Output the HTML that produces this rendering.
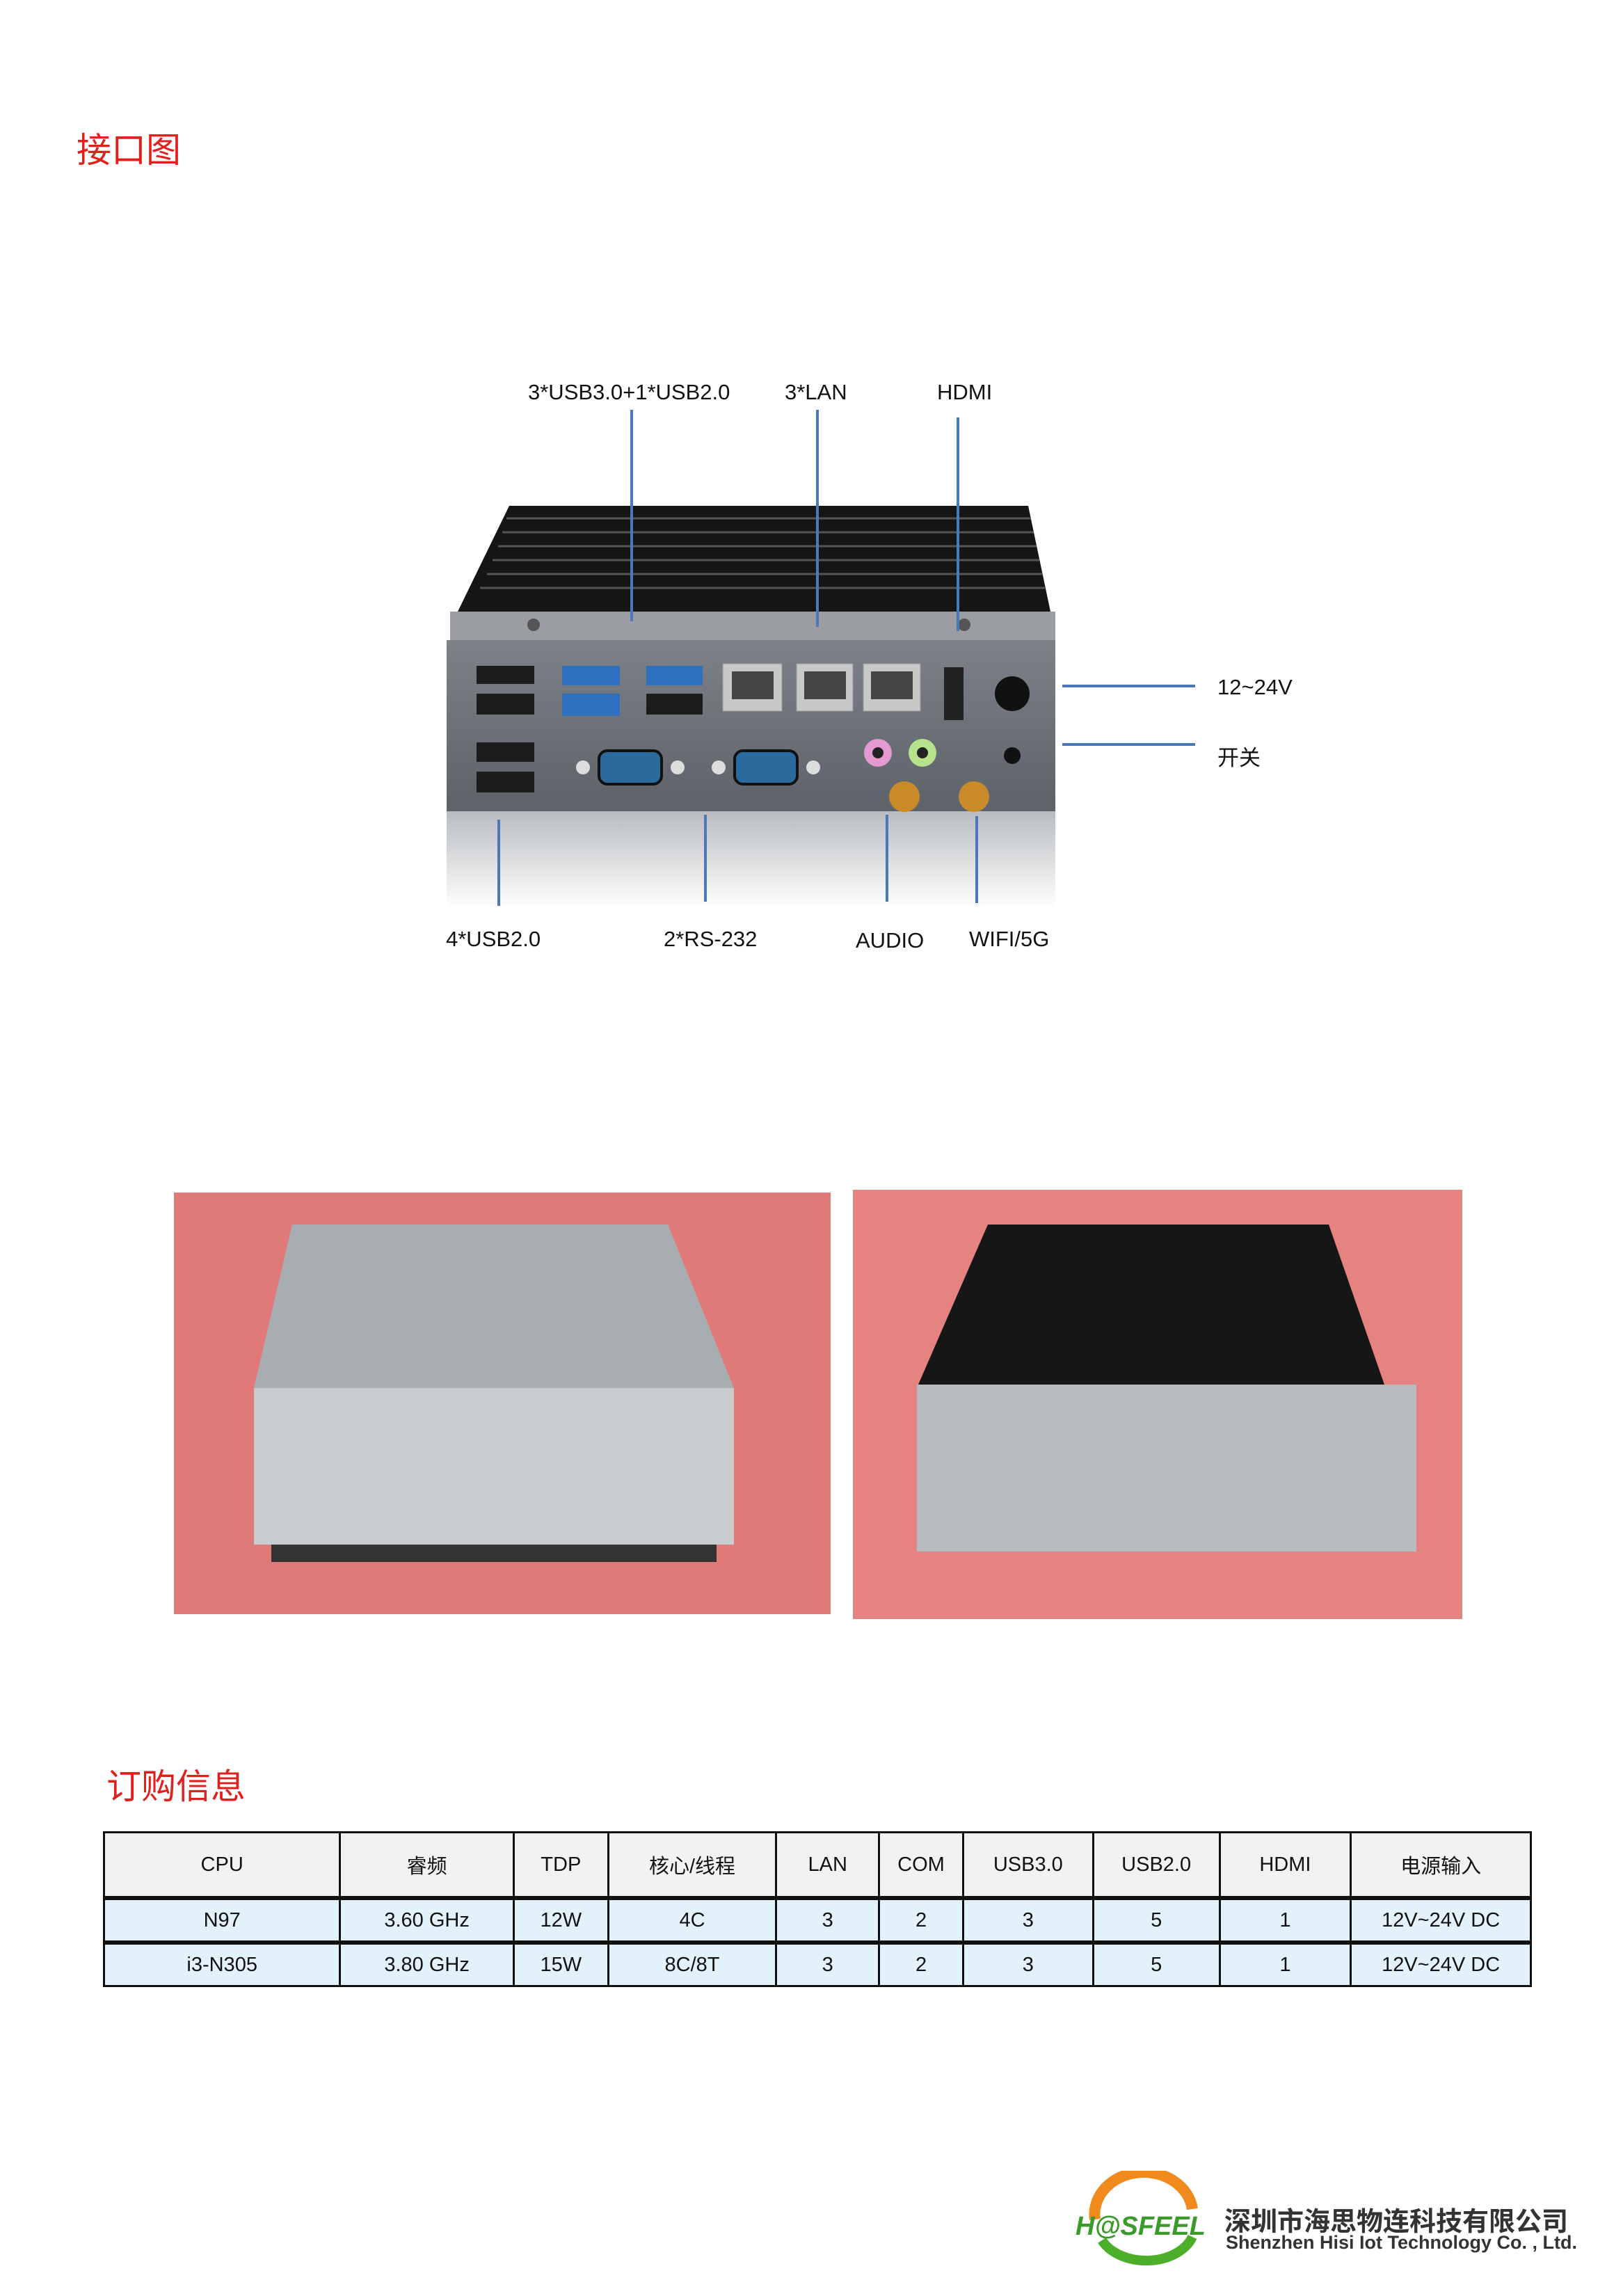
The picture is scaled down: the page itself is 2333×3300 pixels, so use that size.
<!DOCTYPE html>
<html><head><meta charset="utf-8"><style>
body{margin:0;background:#fff;}
#p{position:relative;width:2333px;height:3300px;overflow:hidden;font-family:"Liberation Sans","Noto Sans CJK SC",sans-serif;color:#111;}
.t{position:absolute;white-space:nowrap;}
table{position:absolute;left:148px;top:2632px;width:2054px;border-collapse:collapse;font-size:29px;}
td{border:3px solid #111;text-align:center;padding:0;}
tr.h td{background:#f2f2f2;height:90px;}
tr.d td{background:#e3f1fb;height:58px;border-top:6px solid #111;}
</style></head><body><div id="p">
<div class="t" style="left:110px;top:176px;font-size:50px;color:#e0201c;">接口图</div>
<div class="t" style="left:153px;top:2528px;font-size:50px;color:#e0201c;">订购信息</div>

<svg style="position:absolute;left:0;top:0" width="2333" height="2400">
<defs>
<linearGradient id="pan" x1="0" y1="0" x2="0" y2="1"><stop offset="0" stop-color="#7d8288"/><stop offset="1" stop-color="#5d6268"/></linearGradient>
<linearGradient id="ref" x1="0" y1="0" x2="0" y2="1"><stop offset="0" stop-color="#b8bcc0"/><stop offset="1" stop-color="#fff"/></linearGradient>
</defs>
<polygon points="732,727 1478,727 1510,879 658,879" fill="#151515"/>
<g stroke="#555" stroke-width="3">
<line x1="728" y1="745" x2="1482" y2="745"/><line x1="722" y1="765" x2="1486" y2="765"/><line x1="716" y1="785" x2="1490" y2="785"/><line x1="708" y1="805" x2="1494" y2="805"/><line x1="700" y1="825" x2="1498" y2="825"/><line x1="690" y1="845" x2="1502" y2="845"/></g>
<rect x="647" y="879" width="870" height="41" fill="#9a9ea2"/>
<circle cx="767" cy="898" r="9" fill="#555"/><circle cx="1386" cy="898" r="9" fill="#555"/>
<rect x="642" y="920" width="875" height="246" fill="url(#pan)"/>
<rect x="642" y="1166" width="875" height="140" fill="url(#ref)"/>
<g fill="#1c1c1c">
<rect x="685" y="957" width="83" height="26"/><rect x="685" y="997" width="83" height="30"/>
<rect x="685" y="1067" width="83" height="28"/><rect x="685" y="1109" width="83" height="30"/>
<rect x="929" y="997" width="81" height="30"/></g>
<g fill="#2f6fc0"><rect x="808" y="957" width="83" height="28"/><rect x="808" y="997" width="83" height="32"/><rect x="929" y="957" width="81" height="28"/></g>
<g fill="#c8c8c8" stroke="#999"><rect x="1039" y="954" width="85" height="68"/><rect x="1145" y="954" width="81" height="68"/><rect x="1241" y="954" width="82" height="68"/></g>
<g fill="#444"><rect x="1052" y="965" width="60" height="40"/><rect x="1156" y="965" width="60" height="40"/><rect x="1252" y="965" width="60" height="40"/></g>
<rect x="1357" y="959" width="28" height="76" fill="#222"/>
<circle cx="1455" cy="997" r="25" fill="#111"/>
<g fill="#2a6a9c" stroke="#111" stroke-width="4"><rect x="861" y="1079" width="90" height="48" rx="12"/><rect x="1056" y="1079" width="90" height="48" rx="12"/></g>
<circle cx="838" cy="1103" r="10" fill="#ddd"/><circle cx="974" cy="1103" r="10" fill="#ddd"/><circle cx="1033" cy="1103" r="10" fill="#ddd"/><circle cx="1169" cy="1103" r="10" fill="#ddd"/>
<circle cx="1262" cy="1082" r="20" fill="#e29ad0"/><circle cx="1262" cy="1082" r="8" fill="#222"/>
<circle cx="1326" cy="1082" r="20" fill="#b7e28c"/><circle cx="1326" cy="1082" r="8" fill="#222"/>
<circle cx="1300" cy="1145" r="22" fill="#c98a2a"/><circle cx="1400" cy="1145" r="22" fill="#c98a2a"/>
<circle cx="1455" cy="1086" r="12" fill="#111"/>
<g stroke="#4a78b8" stroke-width="4">
<line x1="908" y1="589" x2="908" y2="893"/><line x1="1175" y1="589" x2="1175" y2="901"/><line x1="1377" y1="600" x2="1377" y2="907"/>
<line x1="1527" y1="986" x2="1718" y2="986"/><line x1="1527" y1="1070" x2="1718" y2="1070"/>
<line x1="717" y1="1178" x2="717" y2="1302"/><line x1="1014" y1="1171" x2="1014" y2="1296"/><line x1="1275" y1="1171" x2="1275" y2="1296"/><line x1="1404" y1="1173" x2="1404" y2="1298"/></g>
<rect x="250" y="1714" width="944" height="606" fill="#e07a78"/>
<polygon points="420,1760 960,1760 1055,1995 365,1995" fill="#a8adb2"/>
<rect x="365" y="1995" width="690" height="225" fill="#c9ccce"/>
<rect x="390" y="2220" width="640" height="25" fill="#333"/>
<rect x="1226" y="1710" width="876" height="617" fill="#e4837f"/>
<polygon points="1420,1760 1910,1760 1990,1990 1320,1990" fill="#161616"/>
<rect x="1318" y="1990" width="718" height="240" fill="#b9bcbf"/>
</svg>

<div class="t" style="left:759px;top:546px;font-size:31px;">3*USB3.0+1*USB2.0</div>
<div class="t" style="left:1128px;top:546px;font-size:31px;">3*LAN</div>
<div class="t" style="left:1347px;top:546px;font-size:31px;">HDMI</div>
<div class="t" style="left:1750px;top:970px;font-size:31px;">12~24V</div>
<div class="t" style="left:1750px;top:1064px;font-size:31px;">开关</div>
<div class="t" style="left:641px;top:1332px;font-size:31px;">4*USB2.0</div>
<div class="t" style="left:954px;top:1332px;font-size:31px;">2*RS-232</div>
<div class="t" style="left:1230px;top:1334px;font-size:31px;">AUDIO</div>
<div class="t" style="left:1393px;top:1332px;font-size:31px;">WIFI/5G</div>

<table>
<colgroup><col style="width:340px"><col style="width:250px"><col style="width:136px"><col style="width:242px"><col style="width:148px"><col style="width:121px"><col style="width:187px"><col style="width:182px"><col style="width:189px"><col style="width:259px"></colgroup>
<tr class="h"><td>CPU</td><td>睿频</td><td>TDP</td><td>核心/线程</td><td>LAN</td><td>COM</td><td>USB3.0</td><td>USB2.0</td><td>HDMI</td><td>电源输入</td></tr>
<tr class="d"><td>N97</td><td>3.60 GHz</td><td>12W</td><td>4C</td><td>3</td><td>2</td><td>3</td><td>5</td><td>1</td><td>12V~24V DC</td></tr>
<tr class="d"><td>i3-N305</td><td>3.80 GHz</td><td>15W</td><td>8C/8T</td><td>3</td><td>2</td><td>3</td><td>5</td><td>1</td><td>12V~24V DC</td></tr>
</table>

<svg style="position:absolute;left:1544px;top:3120px" width="190" height="160">
<path d="M30,70 A70,60 0 0 1 170,55" stroke="#f08a1c" stroke-width="16" fill="none"/>
<path d="M40,100 A70,50 0 0 0 170,95" stroke="#4caf2a" stroke-width="14" fill="none"/>
<text x="2" y="92" font-family="Liberation Sans" font-weight="bold" font-style="italic" font-size="38" fill="#3a9a2a">H@SFEEL</text>
</svg>
<div class="t" style="left:1760px;top:3162px;font-size:38px;font-weight:bold;color:#333;">深圳市海思物连科技有限公司</div>
<div class="t" style="left:1762px;top:3208px;font-size:27px;font-weight:bold;color:#333;">Shenzhen Hisi Iot Technology Co. , Ltd.</div>
</div></body></html>
